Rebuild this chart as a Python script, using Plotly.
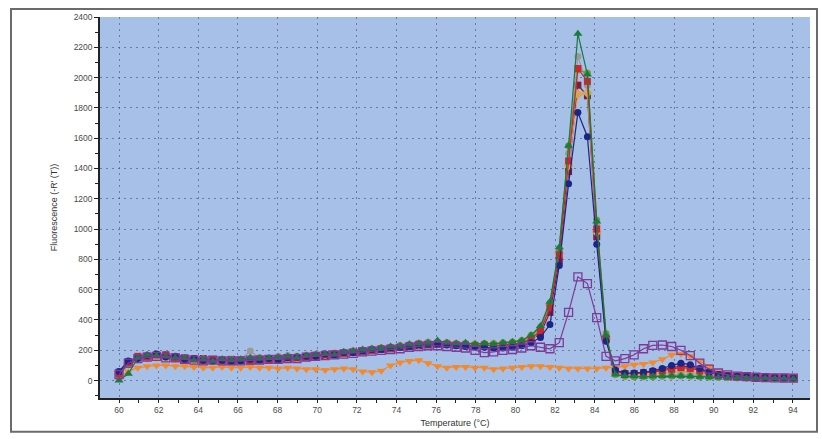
import plotly.graph_objects as go

# Melt-curve readings: temperature (°C) at each fluorescence read
temperature = [
    60.00, 60.47, 60.95, 61.42, 61.89, 62.36, 62.84, 63.31, 63.78, 64.25,
    64.73, 65.20, 65.67, 66.14, 66.62, 67.09, 67.56, 68.03, 68.51, 68.98,
    69.45, 69.92, 70.40, 70.87, 71.34, 71.81, 72.29, 72.76, 73.23, 73.70,
    74.18, 74.65, 75.12, 75.59, 76.07, 76.54, 77.01, 77.48, 77.96, 78.43,
    78.90, 79.37, 79.85, 80.32, 80.79, 81.26, 81.74, 82.21, 82.68, 83.15,
    83.63, 84.10, 84.57, 85.04, 85.52, 85.99, 86.46, 86.93, 87.41, 87.88,
    88.35, 88.82, 89.30, 89.77, 90.24, 90.71, 91.19, 91.66, 92.13, 92.60,
    93.08, 93.55, 94.02,
]

# -R'(T) per well
well_green = [
    0, 45, 150, 170, 165, 160, 150, 150, 135, 140, 130, 140, 135, 140, 150,
    145, 150, 155, 160, 150, 165, 170, 175, 170, 190, 195, 205, 210, 215, 225,
    230, 240, 245, 250, 265, 250, 245, 250, 240, 245, 240, 250, 255, 265, 300,
    360, 520, 880, 1550, 2290, 2020, 1050, 300, 40, 30, 28, 25, 28, 30, 32,
    30, 28, 25, 22, 20, 18, 18, 16, 15, 15, 14, 14, 12,
]
well_red = [
    45, 120, 160, 155, 170, 165, 150, 140, 145, 130, 140, 130, 125, 135, 130,
    140, 135, 140, 150, 150, 155, 160, 170, 175, 180, 185, 195, 200, 210, 215,
    220, 230, 240, 240, 245, 240, 235, 235, 230, 235, 230, 235, 240, 250, 275,
    330, 480, 830, 1450, 2060, 1975, 1000, 280, 60, 45, 45, 50, 55, 65, 75,
    85, 80, 65, 50, 40, 32, 28, 25, 22, 20, 20, 18, 18,
]
well_navy = [
    60, 130, 145, 165, 175, 155, 160, 140, 145, 135, 130, 135, 130, 130, 140,
    135, 145, 140, 150, 155, 160, 160, 175, 170, 185, 185, 195, 205, 205, 215,
    220, 225, 235, 240, 240, 235, 230, 225, 225, 220, 215, 215, 220, 230, 250,
    285, 370, 760, 1300, 1770, 1610, 900, 260, 70, 50, 50, 55, 65, 80, 100,
    115, 105, 80, 55, 40, 32, 28, 25, 22, 20, 18, 18, 16,
]
well_tan = [
    40, 110, 140, 150, 155, 150, 145, 140, 135, 135, 130, 130, 135, 130, 135,
    135, 140, 145, 145, 150, 160, 160, 170, 175, 180, 190, 195, 205, 210, 215,
    225, 230, 240, 245, 245, 245, 240, 235, 240, 235, 240, 240, 250, 260, 290,
    340, 500, 840, 1420, 1890, 1900, 980, 270, 50, 35, 35, 38, 42, 48, 55,
    60, 55, 45, 38, 30, 26, 24, 22, 20, 18, 18, 16, 15,
]
well_gray = [
    45, 115, 145, 155, 160, 155, 150, 145, 140, 140, 135, 135, 130, 140, 195,
    150, 145, 160, 165, 155, 165, 170, 175, 180, 185, 195, 200, 210, 215, 220,
    230, 240, 245, 255, 255, 250, 245, 245, 240, 240, 240, 245, 250, 260, 290,
    345, 505, 860, 1500, 2140, 1950, 1020, 290, 50, 32, 30, 30, 32, 35, 38,
    40, 38, 32, 28, 24, 22, 20, 18, 17, 16, 15, 15, 14,
]
well_olive = [
    35, 105, 155, 165, 170, 160, 145, 150, 140, 140, 135, 140, 135, 135, 140,
    150, 145, 150, 155, 160, 160, 170, 170, 180, 185, 195, 200, 205, 215, 220,
    230, 235, 245, 250, 255, 250, 245, 245, 240, 245, 245, 250, 255, 265, 300,
    350, 510, 870, 1550, 2050, 2030, 1060, 310, 40, 28, 25, 25, 26, 28, 30,
    30, 28, 26, 24, 22, 20, 18, 17, 16, 15, 15, 14, 13,
]
well_maroon = [
    55, 125, 150, 160, 165, 170, 155, 150, 140, 145, 135, 135, 140, 135, 130,
    135, 140, 140, 145, 150, 155, 165, 165, 170, 180, 190, 190, 200, 205, 210,
    220, 225, 230, 235, 240, 240, 235, 230, 230, 230, 225, 230, 235, 245, 270,
    310, 450, 790, 1380, 1950, 1880, 950, 270, 60, 45, 45, 50, 60, 70, 85,
    95, 90, 75, 55, 40, 32, 28, 25, 22, 20, 20, 18, 17,
]
well_purple = [
    40, 115, 145, 155, 160, 150, 150, 140, 135, 130, 135, 130, 130, 130, 135,
    135, 140, 140, 145, 145, 155, 160, 165, 170, 175, 180, 190, 195, 200, 205,
    210, 220, 225, 230, 230, 225, 220, 215, 200, 185, 190, 200, 205, 215, 230,
    220, 210, 250, 450, 685, 640, 415, 160, 130, 145, 170, 210, 232, 235, 225,
    200, 165, 115, 75, 50, 38, 30, 26, 22, 20, 18, 17, 16,
]
well_orange = [
    30, 60, 85, 95, 100, 100, 95, 95, 90, 85, 85, 90, 85, 85, 90,
    85, 85, 80, 85, 80, 75, 75, 70, 75, 80, 75, 60, 55, 65, 100,
    120, 130, 135, 115, 95, 85, 90, 90, 85, 85, 75, 80, 85, 90, 95,
    95, 90, 85, 80, 80, 80, 80, 85, 85, 95, 105, 110, 120, 140, 170,
    175, 160, 130, 95, 55, 45, 40, 35, 32, 30, 28, 26, 25,
]

x_ticks = [60, 62, 64, 66, 68, 70, 72, 74, 76, 78, 80, 82, 84, 86, 88, 90, 92, 94]
y_ticks = [0, 200, 400, 600, 800, 1000, 1200, 1400, 1600, 1800, 2000, 2200, 2400]

wells = [
    (well_orange, "#f5892a", "triangle-down", 8),
    (well_maroon, "#7a1e3c", "square", 7),
    (well_tan, "#d9a35a", "diamond", 8),
    (well_gray, "#9a9a9a", "circle", 7),
    (well_olive, "#6f9a3a", "circle", 7),
    (well_red, "#c8282d", "square", 7),
    (well_navy, "#1c2585", "circle", 7),
    (well_green, "#1b7a3e", "triangle-up", 8),
    (well_purple, "#7b3b97", "square-open", 8),
]

fig = go.Figure()
for values, color, symbol, size in wells:
    fig.add_trace(go.Scatter(
        x=temperature, y=values, mode="lines+markers",
        line=dict(color=color, width=1.2),
        marker=dict(color=color, symbol=symbol, size=size,
                    line=dict(width=1.3 if symbol.endswith("open") else 0, color=color)),
        showlegend=False, hoverinfo="x+y",
    ))

W, H = 822, 439
L, R, T, B = 100, 12, 15, 39
pw, ph = W - L - R, H - T - B


def px_x(px):
    return (px - L) / pw


def px_y(py):
    return (H - B - py) / ph


font_axis = dict(family="Liberation Sans, Arial, sans-serif", size=8.5, color="#4a4a4a")
grid_style = dict(showgrid=True, gridcolor="rgba(70,80,105,0.6)", gridwidth=1, griddash="2px,4px")

fig.update_layout(
    width=W, height=H,
    margin=dict(l=L, r=R, t=T, b=B),
    paper_bgcolor="white",
    plot_bgcolor="#a6c0e8",
    xaxis=dict(
        range=[59.04, 94.86], tickvals=x_ticks, ticktext=[str(v) for v in x_ticks],
        ticks="outside", ticklen=3, tickcolor="#222", tickfont=font_axis,
        showline=True, linecolor="#222", linewidth=1.5, zeroline=False,
        minor=dict(dtick=1, tick0=60, ticks="outside", ticklen=3, tickcolor="#222", showgrid=False),
        title=dict(text="Temperature (°C)", font=dict(family="Liberation Sans, Arial, sans-serif",
                                                      size=9, color="#333"), standoff=6),
        **grid_style,
    ),
    yaxis=dict(
        range=[-115, 2400], tickvals=y_ticks, ticktext=[str(v) for v in y_ticks],
        ticks="outside", ticklen=4, tickcolor="#222", tickfont=font_axis,
        showline=True, linecolor="#222", linewidth=1.5, zeroline=False,
        minor=dict(dtick=100, tick0=0, ticks="outside", ticklen=3, tickcolor="#222", showgrid=False),
        title=dict(text="Fluorescence (-R' (T))", font=dict(family="Liberation Sans, Arial, sans-serif",
                                                            size=9, color="#333"), standoff=14),
        **grid_style,
    ),
    shapes=[
        dict(type="rect", xref="paper", yref="paper",
             x0=px_x(11), x1=px_x(817), y0=px_y(434), y1=px_y(7),
             line=dict(color="#6b6b6b", width=2), fillcolor="rgba(0,0,0,0)", layer="below"),
    ],
)

fig.write_html("out.html")
